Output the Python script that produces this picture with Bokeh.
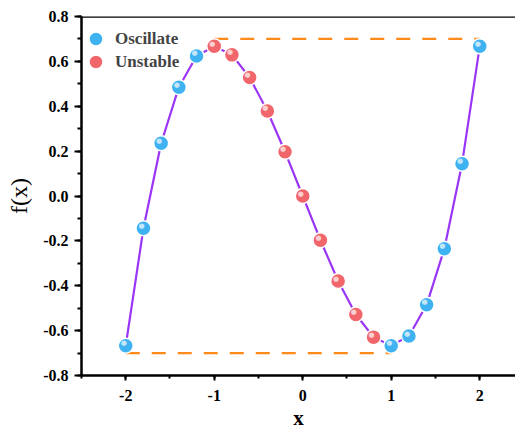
from bokeh.plotting import figure
from bokeh.models import (ColumnDataSource, Span, Legend, LegendItem, SingleIntervalTicker,
                          NumeralTickFormatter, Range1d)
from bokeh.core.properties import value
from bokeh.embed import file_html
from bokeh.resources import INLINE

# data
x_osc = [-2.0, -1.8, -1.6, -1.4, -1.2, 1.0, 1.2, 1.4, 1.6, 1.8, 2.0]
y_osc = [-0.667, -0.144, 0.235, 0.485, 0.624, -0.667, -0.624, -0.485, -0.235, 0.144, 0.667]
x_uns = [-1.0, -0.8, -0.6, -0.4, -0.2, 0.0, 0.2, 0.4, 0.6, 0.8]
y_uns = [0.667, 0.629, 0.528, 0.379, 0.197, 0.0, -0.197, -0.379, -0.528, -0.629]
upper_x = [-1.0, 2.0]
upper_y = [0.7, 0.7]
lower_x = [-2.0, 1.0]
lower_y = [-0.7, -0.7]

pairs = sorted(zip(x_osc + x_uns, y_osc + y_uns))
curve_x = [a for a, b in pairs]
curve_y = [b for a, b in pairs]

FONT = "Liberation Serif"
BLUE = "#3FB2F2"
RED = "#F1666B"
PURPLE = "#9B35F5"
ORANGE = "#FF8A1C"

p = figure(width=515, height=435, output_backend="svg", toolbar_location=None,
           x_range=Range1d(-2.5, 2.404), y_range=Range1d(-0.8, 0.8),
           min_border_left=81, min_border_right=0, min_border_top=16, min_border_bottom=60)
p.outline_line_color = None
p.grid.visible = False
p.background_fill_color = "white"
p.border_fill_color = "white"

p.line(curve_x, curve_y, line_color=PURPLE, line_width=2.2)
p.line(upper_x, upper_y, line_color=ORANGE, line_width=2.2, line_dash="14 12")
p.line(lower_x, lower_y, line_color=ORANGE, line_width=2.2, line_dash="14 12")

src_o = ColumnDataSource(dict(x=x_osc, y=y_osc, t=["●"] * len(x_osc)))
src_u = ColumnDataSource(dict(x=x_uns, y=y_uns, t=["●"] * len(x_uns)))

r_o = p.scatter("x", "y", source=src_o, size=15, fill_color=BLUE, line_color="white", line_width=1.5)
r_u = p.scatter("x", "y", source=src_u, size=15, fill_color=RED, line_color="white", line_width=1.5)
for s in (src_o, src_u):
    p.text("x", "y", text="t", source=s, text_color="white", text_alpha=0.7,
           text_font=value("DejaVu Sans"), text_font_size="7px",
           text_align="center", text_baseline="middle", x_offset=-2, y_offset=-2.5)

p.add_layout(Span(location=0.8, dimension="width", line_color="black", line_width=2.5))

for ax in (p.xaxis[0], p.yaxis[0]):
    ax.axis_line_width = 2.5
    ax.major_tick_line_width = 2
    ax.minor_tick_line_width = 2
    ax.major_tick_in = 0
    ax.minor_tick_in = 0
    ax.major_label_text_font = FONT
    ax.major_label_text_font_style = "bold"
    ax.major_label_text_font_size = "16px"
    ax.major_label_text_color = "black"
    ax.axis_label_text_color = "black"
    ax.axis_label_text_font = FONT

p.xaxis.ticker = SingleIntervalTicker(interval=1, num_minor_ticks=2)
p.xaxis.major_tick_out = 5
p.xaxis.minor_tick_out = 3
p.xaxis.major_label_standoff = 9
p.xaxis.formatter = NumeralTickFormatter(format="0")
p.xaxis.axis_label = "x"
p.xaxis.axis_label_text_font_style = "bold"
p.xaxis.axis_label_text_font_size = "21px"
p.xaxis.axis_label_standoff = 2

p.yaxis.ticker = SingleIntervalTicker(interval=0.2, num_minor_ticks=2)
p.yaxis.major_tick_out = 7
p.yaxis.minor_tick_out = 4
p.yaxis.major_label_standoff = 6
p.yaxis.formatter = NumeralTickFormatter(format="0.0")
p.yaxis.axis_label = "f(x)"
p.yaxis.axis_label_text_font_style = "normal"
p.yaxis.axis_label_text_font_size = "24px"
p.yaxis.axis_label_standoff = 8

common = dict(padding=0, spacing=0, margin=0, glyph_width=35, glyph_height=35, label_height=35,
              label_standoff=2, label_text_font=FONT, label_text_font_style="bold",
              label_text_font_size="17px", border_line_color=None, background_fill_alpha=0)
p.add_layout(Legend(items=[LegendItem(label="Oscillate", renderers=[r_o])], location=(-3, 319), **common))
p.add_layout(Legend(items=[LegendItem(label="Unstable", renderers=[r_u])], location=(-3, 296), **common))

open("out.html", "w").write(file_html(p, INLINE))
